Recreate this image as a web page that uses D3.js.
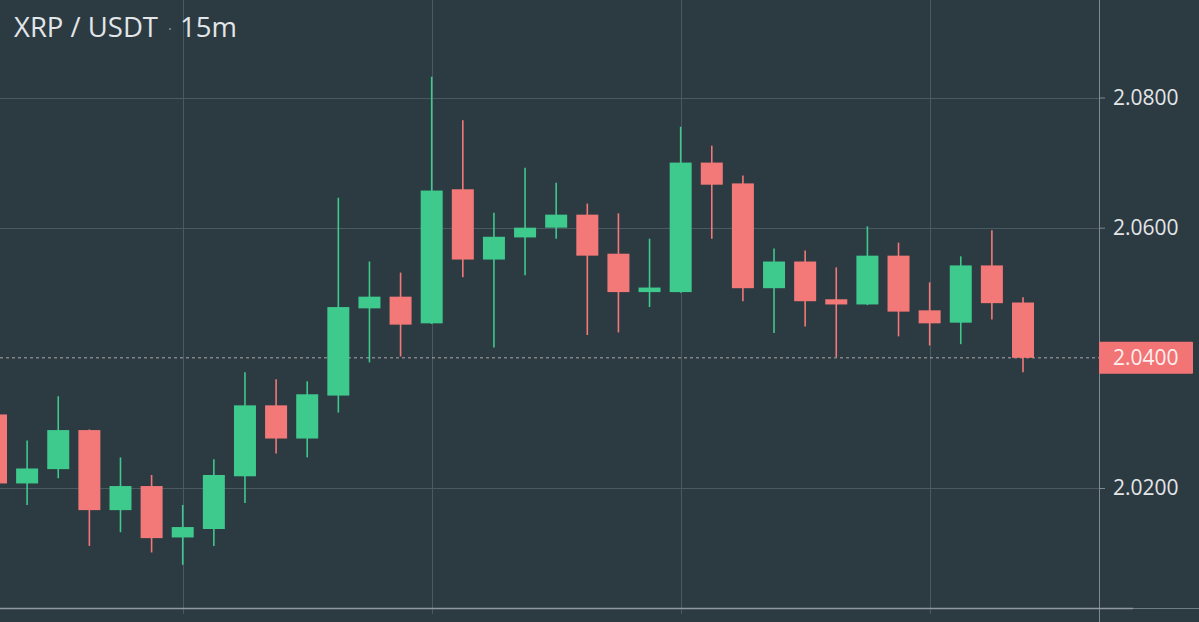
<!doctype html>
<html lang="en">
<head>
  <meta charset="utf-8">
  <title>XRP / USDT 15m</title>
  <script src="https://cdn.jsdelivr.net/npm/d3@7"></script>
  <style>
    html, body { margin:0; padding:0; background:#2c3a42; }
    svg { display:block; }
    text { font-family:"Open Sans", "Noto Sans", sans-serif; }
  </style>
</head>
<body>
<div id="chart"></div>
<script>
  // 15 minute candles, left to right
  var opens  = [2.0313, 2.0207, 2.0229, 2.0289, 2.0166, 2.0203, 2.0124, 2.0137, 2.0218, 2.0327, 2.0276, 2.0342, 2.0476, 2.0494, 2.0453, 2.0659, 2.0551,
                2.0585, 2.0600, 2.0620, 2.0560, 2.0501, 2.0501, 2.0700, 2.0668, 2.0507, 2.0548, 2.0490, 2.0482, 2.0557, 2.0473, 2.0454, 2.0542, 2.0485];
  var highs  = [2.0318, 2.0273, 2.0341, 2.0290, 2.0247, 2.0220, 2.0174, 2.0244, 2.0378, 2.0367, 2.0364, 2.0646, 2.0548, 2.0531, 2.0832, 2.0765, 2.0623,
                2.0692, 2.0669, 2.0637, 2.0622, 2.0583, 2.0755, 2.0726, 2.0680, 2.0568, 2.0565, 2.0539, 2.0602, 2.0577, 2.0516, 2.0556, 2.0596, 2.0493];
  var lows   = [2.0200, 2.0174, 2.0215, 2.0111, 2.0132, 2.0101, 2.0082, 2.0111, 2.0177, 2.0253, 2.0247, 2.0316, 2.0393, 2.0402, 2.0452, 2.0524, 2.0416,
                2.0527, 2.0583, 2.0435, 2.0439, 2.0478, 2.0500, 2.0583, 2.0487, 2.0438, 2.0448, 2.0401, 2.0481, 2.0433, 2.0419, 2.0421, 2.0459, 2.0378];
  var closes = [2.0207, 2.0230, 2.0289, 2.0166, 2.0203, 2.0123, 2.0140, 2.0220, 2.0327, 2.0276, 2.0344, 2.0478, 2.0494, 2.0451, 2.0657, 2.0551, 2.0586,
                2.0600, 2.0620, 2.0557, 2.0501, 2.0508, 2.0700, 2.0666, 2.0507, 2.0548, 2.0487, 2.0482, 2.0557, 2.0471, 2.0453, 2.0542, 2.0484, 2.0400];

  var priceTicks = [2.08, 2.06, 2.04, 2.02];
  var timeGrid = [6, 14, 22, 30];   // candle index of each vertical grid line
  var lastPrice = 2.04;
  var title = ["XRP / USDT", "·", "15m"];

  var width = 1199,
      height = 622,
      plotRight = 1099,
      plotBottom = 608;

  var green = "#3ec98d",
      red = "#f37878";

  var candles = opens.map(function(o, i) {
    return {i: i, open: o, high: highs[i], low: lows[i], close: closes[i]};
  });

  var svg = d3.select("#chart")
    .append("svg")
    .attr("width", width)
    .attr("height", height);

  var x = d3.scaleLinear()
    .domain([0, candles.length - 1])
    .range([-4, 1023]);

  var y = d3.scaleLinear()
    .domain([2.02, 2.08])
    .range([488, 97.5]);

  var bodyW = 22;

  // grid
  svg.append("g")
    .selectAll("line")
    .data(priceTicks.filter(function(d) { return d !== lastPrice; }))
    .enter().append("line")
    .attr("x1", 0).attr("x2", plotRight)
    .attr("y1", function(d) { return Math.round(y(d)) + 0.5; })
    .attr("y2", function(d) { return Math.round(y(d)) + 0.5; })
    .attr("stroke", "#4b5961")
    .attr("stroke-width", 1);

  svg.append("g")
    .selectAll("line")
    .data(timeGrid)
    .enter().append("line")
    .attr("x1", function(d) { return Math.round(x(d)) + 0.5; })
    .attr("x2", function(d) { return Math.round(x(d)) + 0.5; })
    .attr("y1", 0).attr("y2", plotBottom + 6)
    .attr("stroke", "#4b5961")
    .attr("stroke-width", 1);

  // last price dashed line
  svg.append("line")
    .attr("x1", 0).attr("x2", plotRight)
    .attr("y1", y(lastPrice)).attr("y2", y(lastPrice))
    .attr("stroke", "#d9c9cb")
    .attr("stroke-opacity", 0.75)
    .attr("stroke-width", 1)
    .attr("stroke-dasharray", "3,3");

  // candles
  var c = svg.append("g")
    .selectAll("g")
    .data(candles)
    .enter().append("g")
    .attr("fill", function(d) { return d.close >= d.open ? green : red; })
    .attr("stroke", function(d) { return d.close >= d.open ? green : red; });

  c.append("line")
    .attr("x1", function(d) { return x(d.i); })
    .attr("x2", function(d) { return x(d.i); })
    .attr("y1", function(d) { return y(d.high); })
    .attr("y2", function(d) { return y(d.low); })
    .attr("stroke-width", 1.6);

  c.append("rect")
    .attr("x", function(d) { return x(d.i) - bodyW / 2; })
    .attr("width", bodyW)
    .attr("y", function(d) { return y(Math.max(d.open, d.close)); })
    .attr("height", function(d) { return Math.max(3, Math.abs(y(d.open) - y(d.close))); })
    .attr("stroke", "none");

  // axes frame
  svg.append("line")
    .attr("x1", plotRight + 0.5).attr("x2", plotRight + 0.5)
    .attr("y1", 0).attr("y2", height)
    .attr("stroke", "#7d8a91")
    .attr("stroke-width", 1);

  svg.append("line")
    .attr("x1", 0).attr("x2", 1133)
    .attr("y1", plotBottom + 0.5).attr("y2", plotBottom + 0.5)
    .attr("stroke", "#8e9a9f")
    .attr("stroke-width", 1.5);

  svg.append("line")
    .attr("x1", 1133).attr("x2", width)
    .attr("y1", plotBottom + 0.5).attr("y2", plotBottom + 0.5)
    .attr("stroke", "#6f7c83")
    .attr("stroke-width", 1.2);

  // price axis
  var axis = svg.append("g")
    .attr("transform", "translate(" + plotRight + ",0)")
    .call(d3.axisRight(y).tickValues(priceTicks).tickSize(6).tickPadding(8)
      .tickFormat(d3.format(".4f")));

  axis.select(".domain").remove();
  axis.selectAll(".tick line").attr("stroke", "#7d8a91");
  axis.selectAll(".tick text")
    .attr("fill", "#e3e6e8")
    .attr("font-size", 21)
    .attr("font-family", "'Open Sans', 'Noto Sans', sans-serif");

  // last price tag
  var tag = svg.append("g")
    .attr("transform", "translate(" + (plotRight) + "," + y(lastPrice) + ")");

  tag.append("rect")
    .attr("x", 0).attr("y", -16)
    .attr("width", 94).attr("height", 32)
    .attr("rx", 1)
    .attr("fill", "#f27474");

  tag.append("text")
    .attr("x", 14).attr("dy", "0.35em")
    .attr("fill", "#fdf0f0")
    .attr("font-size", 21)
    .text(d3.format(".4f")(lastPrice));

  // title
  var t = svg.append("text")
    .attr("x", 14).attr("y", 37)
    .attr("fill", "#e2e6e8")
    .attr("font-size", 27.5);

  t.append("tspan").text(title[0]);
  t.append("tspan").attr("fill", "#8d999e").attr("font-size", 15).attr("dx", 10).attr("dy", -3).text(title[1]);
  t.append("tspan").attr("dx", 8).attr("dy", 3).text(title[2]);
</script>
</body>
</html>
